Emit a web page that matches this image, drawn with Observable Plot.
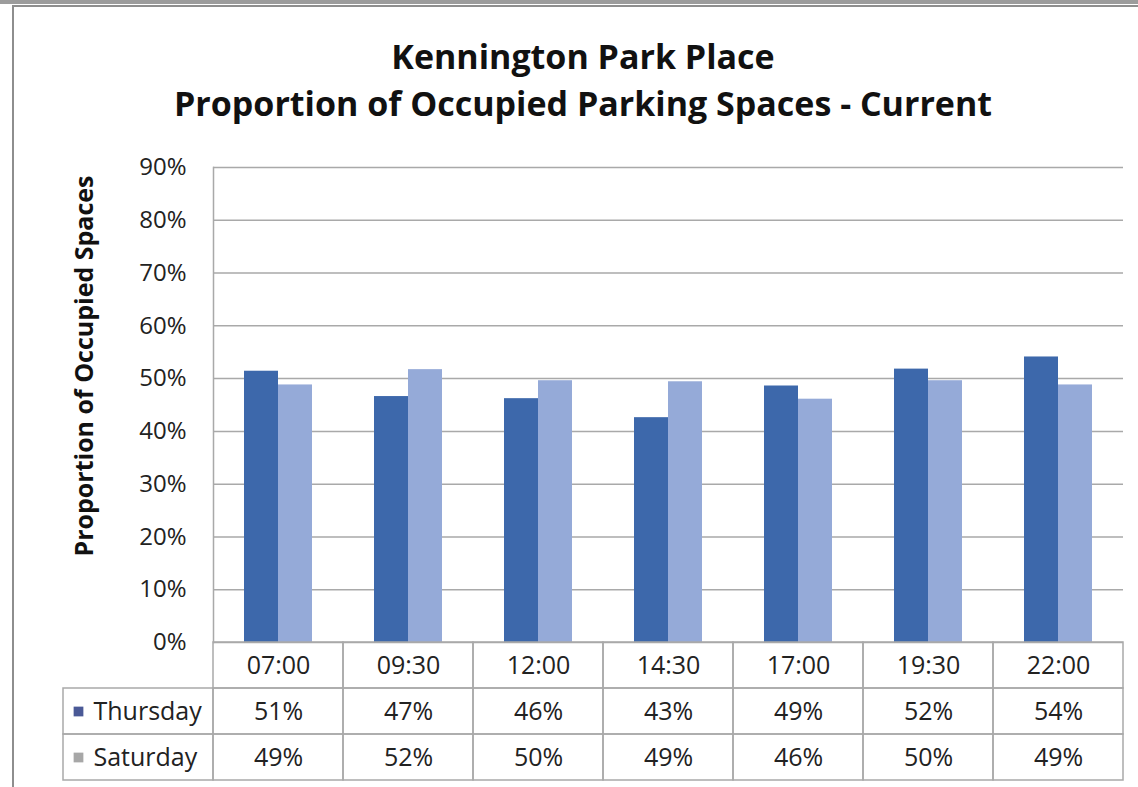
<!DOCTYPE html>
<html><head><meta charset="utf-8">
<script src="https://cdn.jsdelivr.net/npm/d3@7"></script>
<script src="https://cdn.jsdelivr.net/npm/@observablehq/plot@0.6"></script>
<style>
body{margin:0;background:#fff;font-family:"Open Sans",sans-serif;color:#1a1a1a;}
#wrap{position:relative;width:1138px;height:787px;overflow:hidden;}
#topbar{position:absolute;left:0;top:0;width:1138px;height:4px;background:#9c9c9c;}
#box{position:absolute;left:12px;top:5px;width:1300px;height:900px;border-left:2px solid #8e8e8e;border-top:2px solid #8e8e8e;}
#title{position:absolute;left:13px;width:1140px;top:33px;text-align:center;font-weight:700;font-size:34px;line-height:47px;color:#111;}
#ytitle{position:absolute;left:83px;top:366px;transform:translate(-50%,-50%) rotate(-90deg);white-space:nowrap;font-weight:700;font-size:25px;color:#111;}
#main{position:absolute;left:0;top:150px;}
#table{position:absolute;left:0;top:641px;}
</style></head>
<body>
<div id="wrap">
  <div id="topbar"></div>
  <div id="box"></div>
  <div id="title">Kennington Park Place<br>Proportion of Occupied Parking Spaces - Current</div>
  <div id="ytitle">Proportion of Occupied Spaces</div>
  <div id="main"></div>
  <div id="table"></div>
</div>
<script>
const times = ["07:00","09:30","12:00","14:30","17:00","19:30","22:00"];
const seriesNames = ["Thursday","Saturday"];
const thursday = [51.4, 46.6, 46.2, 42.6, 48.6, 51.8, 54.1];
const saturday = [48.8, 51.7, 49.6, 49.4, 46.1, 49.6, 48.8];
const yTicks = [0,10,20,30,40,50,60,70,80,90];
const barColors = ["#3d68ab", "#95aad8"];
const swatchColors = ["#4a5996", "#a7a7a7"];

const values = [thursday, saturday];
const bars = [];
seriesNames.forEach((s, k) => times.forEach((t, i) => bars.push({time: t, series: s, value: values[k][i]})));

const W = 1138, plotLeft = 213, plotRight = 1123, labelLeft = 63;
const gridColor = "#a9a9a9";

const main = Plot.plot({
  width: W, height: 492,
  marginLeft: plotLeft, marginRight: W - plotRight, marginTop: 17, marginBottom: 0,
  style: {background: "transparent", overflow: "visible", fontFamily: "Open Sans"},
  fx: {domain: times, padding: 0, axis: null},
  x: {domain: seriesNames, paddingInner: 0, paddingOuter: 0.86, axis: null},
  y: {domain: [0, 90], axis: null},
  color: {domain: seriesNames, range: barColors},
  marks: [
    Plot.ruleY(yTicks, {stroke: gridColor, strokeWidth: 1.5}),
    Plot.barY(bars, {fx: "time", x: "series", y: "value", fill: "series"}),
    Plot.axisY({ticks: yTicks, tickSize: 0, tickPadding: 27, fontSize: 24, tickFormat: d => d + "%", label: null, fill: "#222"}),
    Plot.frame({anchor: "left", facetAnchor: "left", stroke: gridColor, strokeWidth: 1.5})
  ]
});
document.getElementById("main").appendChild(main);

// data table under the chart
const colW = (plotRight - plotLeft) / times.length;
const labelSpan = (plotLeft - labelLeft) / colW;
const cells = [];
times.forEach((t, i) => [0,1,2].forEach(r => cells.push({x1: i, x2: i + 1, y1: r, y2: r + 1})));
[1,2].forEach(r => cells.push({x1: -labelSpan, x2: 0, y1: r, y2: r + 1}));
const headerText = times.map((t, i) => ({x: i + 0.5, y: 0.5, text: t}));
const valueText = [];
seriesNames.forEach((s, k) => times.forEach((t, i) => valueText.push({x: i + 0.5, y: k + 1.5, text: Math.round(values[k][i]) + "%"})));
const rowLabels = seriesNames.map((s, k) => ({x: -labelSpan, y: k + 1.5, text: s, color: swatchColors[k]}));

const table = Plot.plot({
  width: W, height: 140,
  marginLeft: labelLeft, marginRight: W - plotRight, marginTop: 1, marginBottom: 1,
  style: {background: "transparent", overflow: "visible", fontFamily: "Open Sans"},
  x: {domain: [-labelSpan, times.length], axis: null},
  y: {domain: [0, 3], reverse: true, axis: null},
  marks: [
    Plot.rect(cells, {x1: "x1", x2: "x2", y1: "y1", y2: "y2", fill: "none", stroke: gridColor, strokeWidth: 1.5}),
    Plot.text(headerText, {x: "x", y: "y", text: "text", fontSize: 25, fill: "#222"}),
    Plot.text(valueText, {x: "x", y: "y", text: "text", fontSize: 25, fill: "#222"}),
    Plot.dot(rowLabels, {x: "x", y: "y", symbol: "square", r: 5.5, fill: "color", dx: 15}),
    Plot.text(rowLabels, {x: "x", y: "y", text: "text", fontSize: 25, textAnchor: "start", dx: 30, fill: "#222"})
  ]
});
document.getElementById("table").appendChild(table);
</script>
</body></html>
